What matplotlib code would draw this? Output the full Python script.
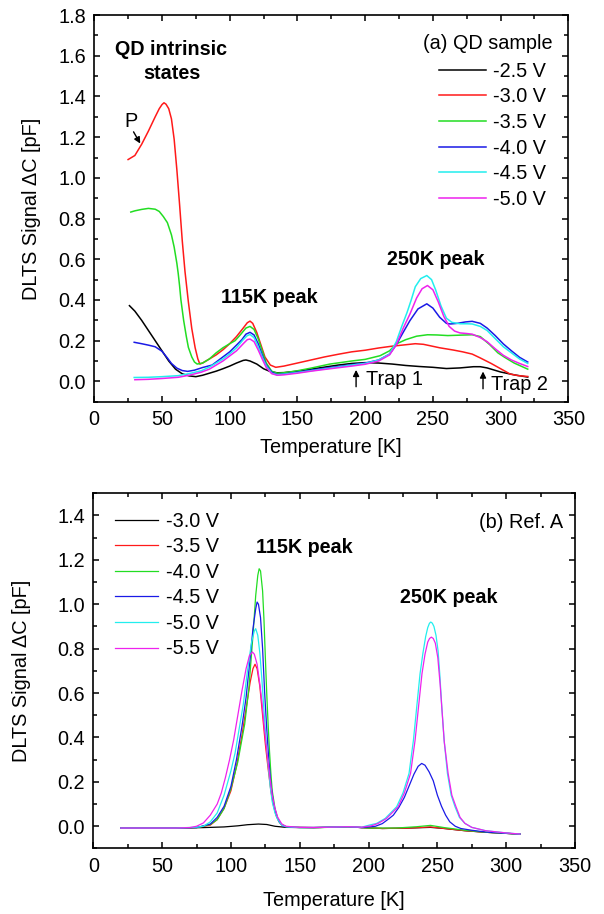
import matplotlib
matplotlib.use('Agg')
import matplotlib.pyplot as plt
from matplotlib.ticker import MultipleLocator, FormatStrFormatter

plt.rcParams['font.family'] = ['Liberation Sans', 'DejaVu Sans']

# ---- (a) QD sample, reverse bias series ----
qd_labels = ['-2.5 V', '-3.0 V', '-3.5 V', '-4.0 V', '-4.5 V', '-5.0 V']

qd_T_25 = [26, 30, 35, 40, 45, 50, 55, 60, 65, 70, 75, 80, 85, 90, 95, 100, 105, 110, 112, 115,
           120, 125, 130, 135, 140, 150, 160, 170, 180, 190, 200, 210, 220, 230, 240, 250, 260,
           270, 280, 285, 290, 300, 310, 320]
qd_S_25 = [0.372, 0.345, 0.30, 0.25, 0.20, 0.15, 0.10, 0.06, 0.037, 0.027, 0.023, 0.03, 0.04,
           0.05, 0.062, 0.075, 0.09, 0.103, 0.105, 0.10, 0.085, 0.062, 0.048, 0.042, 0.043,
           0.05, 0.06, 0.07, 0.08, 0.088, 0.092, 0.09, 0.085, 0.078, 0.073, 0.069, 0.063,
           0.066, 0.072, 0.072, 0.066, 0.046, 0.032, 0.021]

qd_T_30 = [25, 30, 35, 40, 45, 48, 50, 51.5, 53, 55, 57, 59, 61, 63, 65, 67, 69.5, 72, 74.5,
           76.5, 78, 80, 85, 90, 95, 100, 105, 110, 113, 115, 117, 120, 123, 126, 130, 134, 140,
           150, 160, 170, 180, 190, 200, 210, 220, 230, 237, 243, 248, 255, 265, 272, 279, 285,
           293, 300, 307, 313, 320]
qd_S_30 = [1.09, 1.11, 1.165, 1.23, 1.30, 1.34, 1.36, 1.369, 1.362, 1.34, 1.29, 1.19, 1.04,
           0.87, 0.69, 0.54, 0.39, 0.26, 0.165, 0.11, 0.085, 0.09, 0.11, 0.13, 0.155, 0.185,
           0.22, 0.262, 0.288, 0.296, 0.285, 0.24, 0.18, 0.12, 0.08, 0.069, 0.075, 0.09, 0.105,
           0.12, 0.133, 0.145, 0.153, 0.164, 0.173, 0.18, 0.185, 0.182, 0.175, 0.165, 0.154,
           0.145, 0.134, 0.115, 0.088, 0.062, 0.036, 0.028, 0.024]

qd_T_35 = [27, 30, 35, 40, 45, 48, 51, 54, 57, 59, 61, 62, 63, 64, 65, 66, 68, 69.5, 72, 74, 76,
           80, 85, 90, 95, 100, 104, 108, 112, 115, 118, 121, 124, 127, 131, 135, 140, 150, 160,
           174, 190, 200, 211, 218, 223, 230, 238, 246, 253, 261, 270, 279, 285, 292, 298, 303,
           310, 320]
qd_S_35 = [0.832, 0.838, 0.845, 0.85, 0.846, 0.835, 0.81, 0.78, 0.72, 0.66, 0.58, 0.53, 0.47,
           0.40, 0.35, 0.30, 0.22, 0.167, 0.12, 0.095, 0.085, 0.09, 0.11, 0.14, 0.165, 0.185,
           0.20, 0.23, 0.262, 0.27, 0.255, 0.21, 0.15, 0.09, 0.05, 0.04, 0.042, 0.052, 0.065,
           0.085, 0.10, 0.108, 0.126, 0.15, 0.184, 0.205, 0.222, 0.229, 0.228, 0.225, 0.227,
           0.229, 0.22, 0.18, 0.14, 0.118, 0.09, 0.06]

qd_T_40 = [29.5, 35, 40, 45, 50, 54, 57, 61, 65, 69, 74, 80, 87, 95, 100, 105, 109, 112, 115,
           118, 121, 124, 127, 131, 135, 140, 150, 160, 174, 190, 200, 210, 218, 223, 228, 233,
           239, 245.5, 250, 255, 260, 263, 268, 274, 279, 285, 290, 296, 302, 308, 314, 320]
qd_S_40 = [0.192, 0.185, 0.178, 0.17, 0.148, 0.115, 0.088, 0.065, 0.053, 0.049, 0.055, 0.068,
           0.08, 0.12, 0.145, 0.178, 0.205, 0.232, 0.241, 0.228, 0.185, 0.13, 0.08, 0.045,
           0.033, 0.036, 0.045, 0.055, 0.068, 0.082, 0.09, 0.105, 0.134, 0.18, 0.24, 0.298,
           0.356, 0.381, 0.36, 0.315, 0.285, 0.282, 0.285, 0.292, 0.295, 0.285, 0.262, 0.225,
           0.184, 0.15, 0.118, 0.095]

qd_T_45 = [29.5, 40, 50, 62, 70, 79, 85, 90, 95, 100, 105, 110, 113, 115, 118, 121, 124, 127,
           131, 135, 140, 150, 160, 174, 190, 200, 210, 218, 223, 227, 231, 234, 237, 241, 245.5,
           249, 252, 256, 260, 264, 270, 275, 279, 285, 290, 296, 302, 308, 314, 320]
qd_S_45 = [0.019, 0.02, 0.023, 0.028, 0.038, 0.052, 0.07, 0.09, 0.11, 0.135, 0.165, 0.205,
           0.225, 0.23, 0.215, 0.17, 0.12, 0.075, 0.04, 0.032, 0.035, 0.043, 0.052, 0.065, 0.08,
           0.088, 0.105, 0.134, 0.195, 0.27, 0.34, 0.40, 0.465, 0.505, 0.52, 0.50, 0.45, 0.37,
           0.31, 0.29, 0.283, 0.283, 0.282, 0.27, 0.25, 0.21, 0.17, 0.14, 0.11, 0.088]

qd_T_50 = [30, 40, 50, 62, 70, 79, 85, 90, 95, 100, 105, 110, 113, 115, 118, 121, 124, 127, 131,
           135, 140, 150, 160, 174, 190, 200, 210, 218, 223, 228, 233, 238, 242, 246, 250, 254,
           258, 262, 266, 270, 275, 279, 285, 290, 296, 302, 308, 314, 320]
qd_S_50 = [0.008, 0.01, 0.014, 0.02, 0.03, 0.045, 0.06, 0.08, 0.10, 0.125, 0.15, 0.185, 0.205,
           0.208, 0.195, 0.155, 0.11, 0.068, 0.038, 0.03, 0.032, 0.04, 0.05, 0.062, 0.075, 0.084,
           0.10, 0.13, 0.18, 0.26, 0.33, 0.41, 0.455, 0.471, 0.45, 0.39, 0.32, 0.27, 0.247,
           0.238, 0.235, 0.232, 0.215, 0.195, 0.16, 0.128, 0.105, 0.088, 0.073]

# ---- (b) Ref. A, reverse bias series ----
ref_labels = ['-3.0 V', '-3.5 V', '-4.0 V', '-4.5 V', '-5.0 V', '-5.5 V']

ref_T_30 = [20, 40, 60, 80, 95, 105, 112, 120, 126, 132, 140, 160, 175, 185, 195, 210, 230, 245,
            255, 270, 285, 300, 310]
ref_S_30 = [-0.008, -0.008, -0.008, -0.006, -0.003, 0.002, 0.007, 0.01, 0.008, 0.0, -0.005,
            -0.006, -0.004, -0.002, -0.006, -0.01, -0.008, -0.005, -0.01, -0.02, -0.027, -0.032,
            -0.035]

ref_T_35 = [20, 40, 60, 75, 85, 90, 95, 100, 104, 108, 111, 114, 116, 117.5, 119, 121, 123, 125,
            127, 129, 131, 133, 135, 138, 145, 160, 175, 185, 195, 210, 230, 245, 255, 270, 285,
            300, 310]
ref_S_35 = [-0.008, -0.008, -0.008, -0.006, 0.005, 0.03, 0.08, 0.16, 0.27, 0.41, 0.53, 0.65,
            0.71, 0.73, 0.71, 0.63, 0.50, 0.37, 0.26, 0.16, 0.09, 0.045, 0.02, 0.0, -0.005,
            -0.006, -0.004, -0.002, -0.006, -0.01, -0.008, -0.003, -0.01, -0.02, -0.027, -0.032,
            -0.035]

ref_T_40 = [20, 40, 60, 75, 85, 90, 95, 100, 105, 110, 113, 116, 118, 119.5, 120.5, 121.5, 123,
            124, 125, 126, 127, 128, 129, 130, 132, 134, 136, 140, 150, 165, 185, 200, 220, 235,
            245, 255, 270, 285, 300, 310]
ref_S_40 = [-0.008, -0.008, -0.008, -0.006, 0.008, 0.03, 0.08, 0.17, 0.29, 0.46, 0.62, 0.86,
            1.04, 1.13, 1.16, 1.15, 1.06, 0.93, 0.76, 0.60, 0.46, 0.34, 0.24, 0.16, 0.08, 0.035,
            0.012, -0.002, -0.006, -0.006, -0.002, -0.008, -0.008, -0.002, 0.004, -0.006,
            -0.018, -0.027, -0.032, -0.035]

ref_T_45 = [20, 40, 60, 75, 85, 90, 95, 100, 104, 108, 111, 114, 116, 118, 119, 120, 121.5, 123,
            124.5, 126, 127.5, 129, 131, 133, 135, 138, 145, 160, 175, 185, 195, 205, 210, 215,
            218, 222, 226, 230, 233, 236, 238.6, 241, 244, 247, 250, 253, 256, 259, 263, 267,
            275, 285, 300, 310]
ref_S_45 = [-0.008, -0.008, -0.008, -0.006, 0.01, 0.04, 0.09, 0.18, 0.30, 0.45, 0.58, 0.76,
            0.89, 0.98, 1.01, 1.0, 0.94, 0.80, 0.60, 0.44, 0.30, 0.19, 0.10, 0.05, 0.02, 0.0,
            -0.005, -0.006, -0.004, -0.002, -0.006, 0.0, 0.012, 0.035, 0.05, 0.085, 0.13, 0.19,
            0.235, 0.27, 0.283, 0.275, 0.245, 0.205, 0.14, 0.09, 0.05, 0.02, 0.0, -0.01, -0.018,
            -0.026, -0.032, -0.035]

ref_T_50 = [20, 40, 60, 75, 80, 85, 90, 95, 100, 103, 106, 109, 112, 115, 117, 118, 119.5, 121,
            122.5, 124, 125.5, 127, 128.5, 130, 132, 134, 137, 140, 150, 165, 185, 195, 201,
            205.9, 212, 216, 220.4, 225, 229.4, 232.6, 235, 237.4, 239.5, 241.5, 243, 244.2,
            245.2, 246.3, 247.5, 249, 250.5, 251.8, 253.2, 254.9, 257.3, 260, 262.8, 266, 270,
            275, 285, 300, 310]
ref_S_50 = [-0.008, -0.008, -0.008, -0.004, 0.0, 0.02, 0.06, 0.14, 0.25, 0.33, 0.44, 0.55,
            0.70, 0.83, 0.88, 0.89, 0.86, 0.78, 0.66, 0.52, 0.39, 0.28, 0.18, 0.11, 0.06, 0.03,
            0.005, -0.002, -0.006, -0.005, -0.002, -0.004, 0.006, 0.013, 0.035, 0.06, 0.088,
            0.15, 0.238, 0.388, 0.538, 0.687, 0.78, 0.855, 0.895, 0.914, 0.92, 0.915, 0.9, 0.86,
            0.79, 0.68, 0.538, 0.388, 0.238, 0.14, 0.088, 0.04, 0.013, -0.005, -0.02, -0.03,
            -0.035]

ref_T_55 = [20, 40, 60, 70, 75, 80, 85, 90, 93, 96, 99, 102, 105, 108, 111, 113.5, 115.6, 117,
            119, 121, 122.5, 124, 125.5, 127, 128.5, 130, 132, 134, 137, 140, 150, 165, 185, 195,
            202, 207, 213, 217, 221.5, 226, 230.5, 233.8, 236.3, 238.8, 241, 243, 244.3, 245.6,
            247, 248.5, 250.3, 252, 253.5, 255, 257.8, 260.5, 263.5, 266.5, 270, 275, 285, 300,
            310]
ref_S_55 = [-0.008, -0.008, -0.008, -0.006, 0.0, 0.015, 0.05, 0.10, 0.15, 0.22, 0.30, 0.39, 0.50,
            0.61, 0.71, 0.77, 0.785, 0.775, 0.73, 0.64, 0.56, 0.46, 0.37, 0.29, 0.21, 0.14, 0.08,
            0.04, 0.01, 0.0, -0.005, -0.005, -0.002, -0.004, 0.002, 0.013, 0.035, 0.06, 0.088,
            0.15, 0.238, 0.388, 0.538, 0.687, 0.775, 0.83, 0.846, 0.852, 0.846, 0.825, 0.76,
            0.64, 0.51, 0.38, 0.238, 0.14, 0.088, 0.04, 0.013, -0.005, -0.02, -0.03, -0.035]

colors = ['#000000', '#ff1a1a', '#22dd22', '#1a1ae6', '#22eeee', '#ee22ee']
FS = 14.3


def style_axes(ax, ymax):
    ax.set_xlim(0, 350)
    ax.set_ylim(-0.1, ymax)
    ax.xaxis.set_major_locator(MultipleLocator(50))
    ax.xaxis.set_minor_locator(MultipleLocator(25))
    ax.yaxis.set_major_locator(MultipleLocator(0.2))
    ax.yaxis.set_minor_locator(MultipleLocator(0.1))
    ax.yaxis.set_major_formatter(FormatStrFormatter('%.1f'))
    ax.tick_params(which='both', direction='in', top=True, right=True, width=1.1)
    ax.tick_params(which='major', length=4.5, pad=6, labelsize=FS)
    ax.tick_params(which='minor', length=3)
    for s in ax.spines.values():
        s.set_linewidth(1.2)
    ax.set_xlabel('Temperature [K]', fontsize=FS)
    ax.set_ylabel('DLTS Signal \u0394C [pF]', fontsize=FS)


fig = plt.figure(figsize=(6.04, 9.14), dpi=100)

# top panel
ax1 = fig.add_axes([0.156, 0.5605, 0.785, 0.423])
qd_T = [qd_T_25, qd_T_30, qd_T_35, qd_T_40, qd_T_45, qd_T_50]
qd_S = [qd_S_25, qd_S_30, qd_S_35, qd_S_40, qd_S_45, qd_S_50]
for T, S, c, lab in zip(qd_T, qd_S, colors, qd_labels):
    ax1.plot(T, S, color=c, lw=1.1, label=lab)
style_axes(ax1, 1.8)
ax1.xaxis.set_label_coords(0.5, -0.095)
ax1.yaxis.set_label_coords(-0.112, 0.5)

ax1.legend(loc='upper left', bbox_to_anchor=(254.7, 1.570), bbox_transform=ax1.transData,
           frameon=False, fontsize=FS, borderpad=0, borderaxespad=0, handlelength=2.35,
           handletextpad=0.35, labelspacing=0.33)
ax1.text(338.6, 1.661, '(a) QD sample', ha='right', va='center', fontsize=FS)
ax1.text(57, 1.632, 'QD intrinsic', ha='center', va='center', fontsize=14.2, fontweight='bold')
ax1.text(57, 1.511, 'states', ha='center', va='center', fontsize=14.2, fontweight='bold')
ax1.text(129.5, 0.41, '115K peak', ha='center', va='center', fontsize=14.2, fontweight='bold')
ax1.text(252.4, 0.60, '250K peak', ha='center', va='center', fontsize=14.2, fontweight='bold')

ax1.text(27, 1.277, 'P', ha='center', va='center', fontsize=FS)
ax1.annotate('', xy=(35, 1.157), xytext=(28, 1.238),
             arrowprops=dict(arrowstyle='-|>', color='k', lw=1, mutation_scale=9))
ax1.annotate('', xy=(193.3, 0.07), xytext=(193.3, -0.04),
             arrowprops=dict(arrowstyle='-|>', color='k', lw=1, mutation_scale=9))
ax1.text(200.6, 0.008, 'Trap 1', ha='left', va='center', fontsize=FS)
ax1.annotate('', xy=(287, 0.062), xytext=(287, -0.05),
             arrowprops=dict(arrowstyle='-|>', color='k', lw=1, mutation_scale=9))
ax1.text(293, -0.016, 'Trap 2', ha='left', va='center', fontsize=FS)

# bottom panel
ax2 = fig.add_axes([0.1545, 0.0717, 0.7975, 0.3886])
ref_T = [ref_T_30, ref_T_35, ref_T_40, ref_T_45, ref_T_50, ref_T_55]
ref_S = [ref_S_30, ref_S_35, ref_S_40, ref_S_45, ref_S_50, ref_S_55]
for T, S, c, lab in zip(ref_T, ref_S, colors, ref_labels):
    ax2.plot(T, S, color=c, lw=0.9, label=lab)
style_axes(ax2, 1.5)
ax2.xaxis.set_label_coords(0.5, -0.12)
ax2.yaxis.set_label_coords(-0.13, 0.5)

ax2.legend(loc='upper left', bbox_to_anchor=(15.4, 1.417), bbox_transform=ax2.transData,
           frameon=False, fontsize=FS, borderpad=0, borderaxespad=0, handlelength=2.2,
           handletextpad=0.39, labelspacing=0.33)
ax2.text(341.6, 1.37, '(b) Ref. A', ha='right', va='center', fontsize=FS)
ax2.text(153, 1.255, '115K peak', ha='center', va='center', fontsize=14.2, fontweight='bold')
ax2.text(258, 1.032, '250K peak', ha='center', va='center', fontsize=14.2, fontweight='bold')

fig.savefig('out.png', dpi=100)
